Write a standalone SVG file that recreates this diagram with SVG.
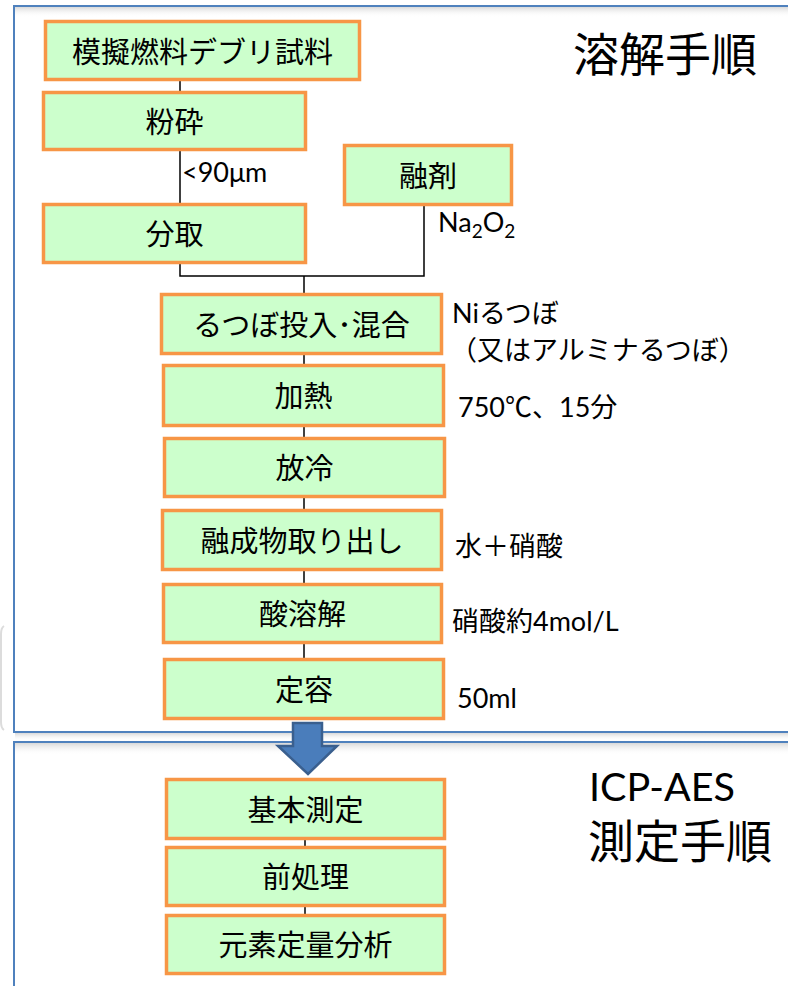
<svg xmlns="http://www.w3.org/2000/svg" width="788" height="986" viewBox="0 0 788 986">
<defs>
<style>
.box{fill:#ccffcc;stroke:#f79646;stroke-width:3.5}
.bt{font-family:Lato,"Noto Sans CJK JP",sans-serif;font-size:29px;fill:#000;text-anchor:middle;dominant-baseline:central}
.ann{font-family:Lato,"Noto Sans CJK JP",sans-serif;font-size:27px;fill:#000}
.ttl{font-family:"Noto Sans CJK JP",sans-serif;font-size:46px;fill:#000}
.lat{font-family:Lato,sans-serif;font-size:39px}
.frame{fill:none;stroke:#4f81bd;stroke-width:2}
.ln{stroke:#000;stroke-width:1.5;fill:none}
</style>
<linearGradient id="sh" x1="0" y1="0" x2="0" y2="1">
<stop offset="0" stop-color="#d9d9d9"/>
<stop offset="1" stop-color="#ffffff" stop-opacity="0"/>
</linearGradient>
</defs>
<rect width="788" height="986" fill="#fff"/>
<g id="frames">
<path d="M4,626 Q1,628 1,634 L1,722 Q1,728 4,730" stroke="#dcdcdc" stroke-width="2" fill="none"/>
<rect x="15" y="7" width="780" height="10" fill="url(#sh)"/>
<rect x="15" y="733" width="780" height="8" fill="url(#sh)"/>
<rect x="15" y="743" width="780" height="12" fill="url(#sh)"/>
<rect class="frame" x="14" y="6" width="790" height="726"/>
<rect class="frame" x="14" y="742" width="790" height="260"/>
</g>
<g id="connectors">
<line class="ln" x1="180" y1="80" x2="180" y2="93"/>
<line class="ln" x1="180" y1="150" x2="180" y2="205"/>
<polyline class="ln" points="180,263 180,276 424,276 424,205"/>
<line class="ln" x1="304" y1="276" x2="304" y2="720"/>
<line class="ln" x1="305" y1="838" x2="305" y2="916"/>
</g>
<g id="n1"><rect class="box" x="45.5" y="21.5" width="314" height="58"/><text class="bt" x="202.5" y="51">模擬燃料デブリ試料</text></g>
<g id="n2"><rect class="box" x="43.5" y="92.5" width="262" height="57"/><text class="bt" x="174.5" y="121">粉砕</text></g>
<g id="n3"><rect class="box" x="43.5" y="204.5" width="262" height="58"/><text class="bt" x="174.5" y="233.5">分取</text></g>
<g id="n4"><rect class="box" x="344.5" y="145.5" width="167" height="59"/><text class="bt" x="428" y="175">融剤</text></g>
<g id="n5"><rect class="box" x="161.5" y="294.5" width="280" height="59"/><text class="bt" x="301.5" y="324">るつぼ投入･混合</text></g>
<g id="n6"><rect class="box" x="163.5" y="365.5" width="280" height="60"/><text class="bt" x="303.5" y="395.5">加熱</text></g>
<g id="n7"><rect class="box" x="164.5" y="438.5" width="280" height="58"/><text class="bt" x="304.5" y="467.5">放冷</text></g>
<g id="n8"><rect class="box" x="162.5" y="510.5" width="279" height="59"/><text class="bt" x="302" y="540">融成物取り出し</text></g>
<g id="n9"><rect class="box" x="163.5" y="584.5" width="278" height="58"/><text class="bt" x="302.5" y="613.5">酸溶解</text></g>
<g id="n10"><rect class="box" x="164.5" y="659.5" width="279" height="59"/><text class="bt" x="304" y="689">定容</text></g>
<g id="arrow"><polygon points="293,723 322,723 322,746 337,746 308,774 278,746 293,746" fill="#4a7dbb" stroke="#3a5f8e" stroke-width="2.5" stroke-linejoin="miter"/></g>
<g id="n11"><rect class="box" x="166.5" y="779.5" width="278" height="59"/><text class="bt" x="305.5" y="809">基本測定</text></g>
<g id="n12"><rect class="box" x="166.5" y="847.5" width="278" height="58"/><text class="bt" x="305.5" y="876.5">前処理</text></g>
<g id="n13"><rect class="box" x="166.5" y="915.5" width="278" height="58"/><text class="bt" x="305.5" y="944.5">元素定量分析</text></g>
<g id="labels">
<text class="ann" x="182" y="182">&lt;90μm</text>
<text class="ann" x="438" y="232">Na<tspan font-size="19" dy="6">2</tspan><tspan dy="-6">O</tspan><tspan font-size="19" dy="6">2</tspan></text>
<text class="ann" x="452" y="323">Niるつぼ</text>
<text class="ann" x="450" y="360">（又はアルミナるつぼ）</text>
<text class="ann" x="458" y="417">750℃、15分</text>
<text class="ann" x="455" y="556">水＋硝酸</text>
<text class="ann" x="452" y="631">硝酸約4mol/L</text>
<text class="ann" x="457" y="708">50ml</text>
<text class="ttl" x="573" y="71">溶解手順</text>
<text class="ttl" x="589" y="801"><tspan class="lat" textLength="146" lengthAdjust="spacingAndGlyphs">ICP-AES</tspan><tspan x="588" y="858">測定手順</tspan></text>
</g>
</svg>
